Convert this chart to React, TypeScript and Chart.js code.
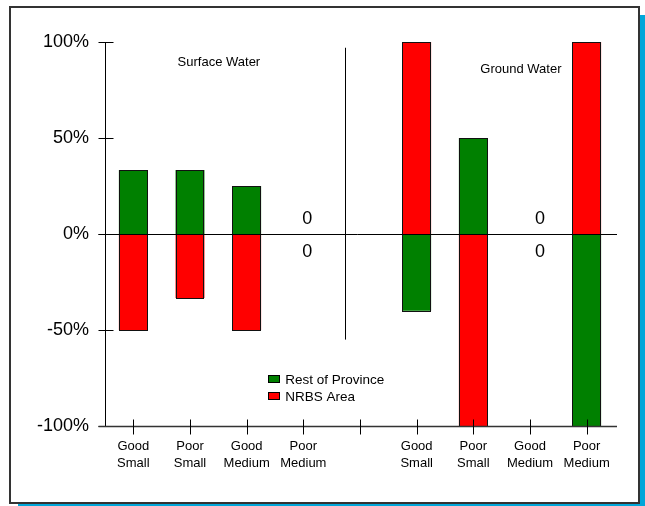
import React, { useEffect, useRef } from "react";
import { Chart, registerables } from "chart.js";

Chart.register(...registerables);

const FONT = '"Liberation Sans", Arial, Helvetica, sans-serif';

const categories: (string | string[])[] = [
  ["Good", "Small"],
  ["Poor", "Small"],
  ["Good", "Medium"],
  ["Poor", "Medium"],
  "",
  ["Good", "Small"],
  ["Poor", "Small"],
  ["Good", "Medium"],
  ["Poor", "Medium"],
];
const seriesNames = ["Rest of Province", "NRBS Area"];
const restOfProvince: (number | null)[] = [33.3, 33.3, 25, 0, null, -40, 50, 0, -100];
const nrbsArea: (number | null)[] = [-50, -33.3, -50, 0, null, 100, -100, 0, 100];
const seriesColors = ["#008000", "#FF0000"];
const yTicks = [-100, -50, 0, 50, 100];
const sectionTitles = ["Surface Water", "Ground Water"];

const overlayPlugin = {
  id: "overlay",
  afterDatasetsDraw(chart: any) {
    const { ctx, chartArea, scales } = chart;
    const x = scales.x;
    const y = scales.y;
    const line = (x1: number, y1: number, x2: number, y2: number) => {
      ctx.beginPath();
      ctx.moveTo(x1, y1);
      ctx.lineTo(x2, y2);
      ctx.stroke();
    };
    const r = (v: number) => Math.round(v) + 0.5;
    ctx.save();

    // crisp bar outlines from the library's bar elements
    ctx.strokeStyle = "#111";
    ctx.lineWidth = 1;
    chart.data.datasets.forEach((ds: any, di: number) => {
      const meta = chart.getDatasetMeta(di);
      meta.data.forEach((el: any, i: number) => {
        const v = ds.data[i];
        if (v === null || v === 0) return;
        const p = el.getProps(["x", "y", "base", "width"], true);
        const left = Math.round(p.x - p.width / 2);
        const right = Math.round(p.x + p.width / 2);
        const top = Math.round(Math.min(p.y, p.base));
        const bottom = Math.round(Math.max(p.y, p.base));
        ctx.strokeRect(left + 0.5, top + 0.5, right - left - 1, bottom - top);
      });
    });

    ctx.strokeStyle = "#000";
    const ax = r(chartArea.left);
    const yTop = r(y.getPixelForValue(100));
    const yBot = r(y.getPixelForValue(-100));
    const y0 = r(y.getPixelForValue(0));
    const xEnd = chartArea.right + 2;
    // y axis + ticks
    line(ax, yTop, ax, yBot);
    yTicks.forEach((v) => {
      const py = r(y.getPixelForValue(v));
      line(ax - 7, py, ax + 8, py);
    });
    // zero line
    line(ax - 7, y0, xEnd, y0);
    // bottom axis
    ctx.strokeStyle = "#333";
    ctx.lineWidth = 1.5;
    line(ax - 7, yBot, xEnd, yBot);
    ctx.lineWidth = 1;
    ctx.strokeStyle = "#000";
    categories.forEach((_, i) => {
      const px = r(x.getPixelForValue(i));
      line(px, yBot - 7, px, yBot + 8);
    });
    // divider between sections
    const p3 = x.getPixelForValue(3);
    const p4 = x.getPixelForValue(4);
    const dx = r(p3 + 0.74 * (p4 - p3));
    line(dx, y.getPixelForValue(97), dx, y.getPixelForValue(-55));

    // section titles
    ctx.fillStyle = "#000";
    ctx.textAlign = "center";
    ctx.textBaseline = "middle";
    ctx.font = `13px ${FONT}`;
    const step = x.getPixelForValue(1) - x.getPixelForValue(0);
    ctx.fillText(sectionTitles[0], x.getPixelForValue(0) + 1.51 * step, y.getPixelForValue(89.2));
    ctx.fillText(sectionTitles[1], x.getPixelForValue(0) + 6.84 * step, y.getPixelForValue(85.6));

    // zero value labels
    ctx.font = `18px ${FONT}`;
    categories.forEach((_, i) => {
      if (restOfProvince[i] === 0 && nrbsArea[i] === 0) {
        const px = x.getPixelForValue(i) + (i < 4 ? 4 : 10);
        ctx.fillText("0", px, y.getPixelForValue(8));
        ctx.fillText("0", px, y.getPixelForValue(-9.5));
      }
    });

    // legend
    ctx.font = `13.5px ${FONT}`;
    ctx.textAlign = "left";
    const lx = x.getPixelForValue(0) + 2.38 * step;
    const rows = [-75.5, -84.4];
    seriesNames.forEach((name, k) => {
      const cy = y.getPixelForValue(rows[k]);
      ctx.fillStyle = seriesColors[k];
      ctx.fillRect(Math.round(lx), Math.round(cy - 4), 12, 8);
      ctx.strokeStyle = "#000";
      ctx.strokeRect(Math.round(lx) + 0.5, Math.round(cy - 4) + 0.5, 11, 7);
      ctx.fillStyle = "#000";
      ctx.fillText(name, lx + 17, cy + 1);
    });
    ctx.restore();
  },
};

export default function App() {
  const ref = useRef<HTMLCanvasElement | null>(null);
  useEffect(() => {
    if (!ref.current) return;
    Chart.defaults.font.family = FONT;
    const chart = new Chart(ref.current, {
      type: "bar",
      data: {
        labels: categories as any,
        datasets: seriesNames.map((name, k) => ({
          label: name,
          data: (k === 0 ? restOfProvince : nrbsArea) as any,
          backgroundColor: seriesColors[k],
          borderWidth: 0,
          categoryPercentage: 1,
          barPercentage: 0.51,
        })),
      },
      options: {
        responsive: false,
        animation: false,
        layout: { padding: { left: 0, top: 42, right: 30, bottom: 0 } },
        plugins: { legend: { display: false }, tooltip: { enabled: false } },
        scales: {
          x: {
            stacked: true,
            grid: { display: false, drawTicks: false },
            border: { display: false },
            ticks: {
              color: "#000",
              font: { family: FONT, size: 13, lineHeight: 1.3 },
              padding: 12,
              maxRotation: 0,
              autoSkip: false,
            },
            afterFit: (s: any) => {
              s.height = 80;
            },
          },
          y: {
            stacked: true,
            min: -100,
            max: 100,
            grid: { display: false, drawTicks: false },
            border: { display: false },
            ticks: {
              stepSize: 50,
              color: "#000",
              font: { family: FONT, size: 18 },
              padding: 16,
              callback: (v: any) => `${v}%`,
            },
            afterFit: (s: any) => {
              s.width = 105;
            },
          },
        },
      },
      plugins: [overlayPlugin],
    });
    return () => chart.destroy();
  }, []);

  return (
    <div
      style={{
        position: "absolute",
        left: 0,
        top: 0,
        width: 645,
        height: 506,
        background: "#fff",
        overflow: "hidden",
      }}
    >
      <div
        style={{
          position: "absolute",
          left: 18,
          top: 15,
          right: 0,
          bottom: 0,
          background: "#00A6D9",
        }}
      />
      <div
        style={{
          position: "absolute",
          left: 9,
          top: 6,
          width: 631,
          height: 498,
          boxSizing: "border-box",
          border: "2px solid #333",
          background: "#fff",
        }}
      />
      <canvas
        ref={ref}
        width={645}
        height={506}
        style={{ position: "absolute", left: 0, top: 0, display: "block" }}
      />
    </div>
  );
}
